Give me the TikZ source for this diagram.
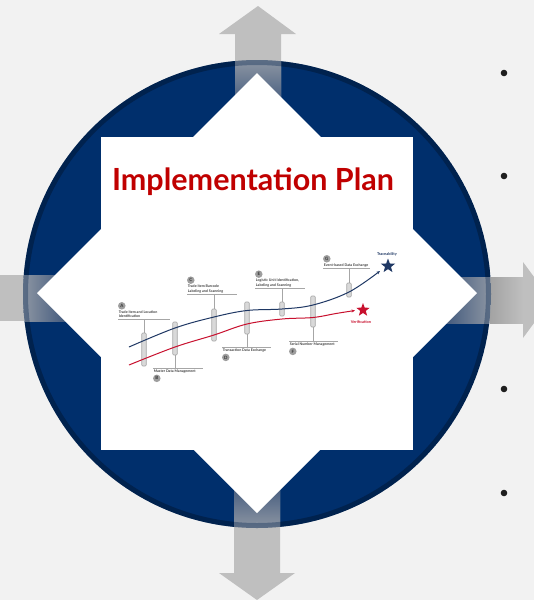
\documentclass[tikz,border=0pt]{standalone}
\usepackage{fontspec}
\setmainfont{Lato}
\usetikzlibrary{positioning,shapes.geometric,arrows.meta}

\definecolor{bgGray}{HTML}{F2F2F2}
\definecolor{discNavy}{HTML}{002F6C}
\definecolor{ringNavy}{HTML}{00224E}
\definecolor{arrowGray}{HTML}{BFBFBF}
\definecolor{rimGray}{HTML}{8D96A3}
\definecolor{deepGray}{HTML}{3A5379}
\definecolor{titleRed}{HTML}{C00000}
\definecolor{traceNavy}{HTML}{1F3864}
\definecolor{verifRed}{HTML}{C8102E}
\definecolor{barFill}{HTML}{D9D9D9}
\definecolor{barLine}{HTML}{A6A6A6}

\tikzset{
  bar/.style={draw=barLine, fill=barFill, line width=0.6pt, rounded corners=1pt,
    minimum width=4.5pt, inner sep=0pt},
  stem/.style={draw=barLine, line width=0.8pt},
  tick/.style={draw=barLine, line width=0.8pt},
  lbl/.style={font=\fontsize{3.6}{4.6}\selectfont\bfseries, text=black!75,
    align=left, inner sep=0.6pt},
  letter/.style={circle, fill=black!38, text=black!80, inner sep=0pt,
    minimum size=7.5pt, font=\fontsize{4.4}{4.4}\selectfont\bfseries},
  goal/.style={star, star points=5, star point ratio=2.4, inner sep=0pt},
  bigarrow/.style={fill=arrowGray}
}

\begin{document}
\begin{tikzpicture}[x=1pt, y=-1pt]
  \useasboundingbox (0,0) rectangle (534,600);
  \fill[bgGray] (0,0) rectangle (534,600);

  % big disc
  \coordinate (ctr) at (257,294);
  \draw[ringNavy, fill=discNavy, line width=5pt] (ctr) circle (231.5pt);

  % four arrows
  \fill[bigarrow] (235,110) -- (235,34) -- (219,34) -- (258,6) -- (296,34) -- (281,34) -- (281,110) -- cycle;
  \fill[bigarrow] (234,480) -- (234,573) -- (219,573) -- (257,600) -- (295,573) -- (280,573) -- (280,480) -- cycle;
  \fill[bigarrow] (-5,275) -- (70,275) -- (70,321) -- (-5,321) -- cycle;
  \fill[bigarrow] (440,277) -- (523,277) -- (523,262) -- (551,300) -- (523,338) -- (523,323) -- (440,323) -- cycle;
  \shade[left color=arrowGray!80!black!90, right color=arrowGray] (490,277) rectangle (523,323);
  \begin{scope}
    \clip (ctr) circle (234pt);
    \shade[top color=rimGray, bottom color=deepGray] (235,60) rectangle (281,110);
    \shade[bottom color=rimGray, top color=deepGray] (234,480) rectangle (280,528);
    \shade[left color=rimGray, right color=deepGray] (23,275) rectangle (70,321);
    \shade[right color=rimGray, left color=deepGray] (440,277) rectangle (491,323);
    \draw[ringNavy, line width=5pt, opacity=0.35] (ctr) circle (231.5pt);
  \end{scope}

  % white diamond and panel
  \fill[white] (257,73) -- (477,293) -- (257,513) -- (37,293) -- cycle;
  \fill[white] (101,137) rectangle (413,450);

  \node[anchor=base, font=\fontsize{30.5}{31}\selectfont\bfseries, text=titleRed]
    (title) at (253,190) {Implementation Plan};

  % milestones above the curves
  \coordinate (lA) at (118,319);
  \coordinate (lC) at (187,294);
  \coordinate (lE) at (255,288);
  \coordinate (lG) at (323,268);
  % milestones below the curves
  \coordinate (lB) at (153,368);
  \coordinate (lD) at (222,347);
  \coordinate (lF) at (289,341);

  \draw[tick] (lA) -- ++(52,0);
  \draw[tick] (lC) -- ++(50,0);
  \draw[tick] (lE) -- ++(50,0);
  \draw[tick] (lG) -- ++(47,0);
  \draw[tick] (lB) -- ++(50,0);
  \draw[tick] (lD) -- ++(49,0);
  \draw[tick] (lF) -- ++(49,0);

  \node[lbl, above right=0.3pt and 0pt of lA] (tA) {Trade Item and Location\\Identification};
  \node[lbl, above right=0.3pt and 0pt of lC] (tC) {Trade Item Barcode\\Labeling and Scanning};
  \node[lbl, above right=0.3pt and 0pt of lE] (tE) {Logistic Unit Identification,\\Labeling and Scanning};
  \node[lbl, above right=0.3pt and 0pt of lG] (tG) {Event-based Data Exchange};
  \node[lbl, below right=1.5pt and 0pt of lB] (tB) {Master Data Management};
  \node[lbl, below right=1.5pt and 0pt of lD] (tD) {Transaction Data Exchange};
  \node[lbl, below right=1.5pt and 0pt of lF] (tF) {Serial Number Management};

  \node[letter, above=1.2pt of tA.north west, anchor=south west, xshift=1pt] (cA) {A};
  \node[letter, above=1.2pt of tC.north west, anchor=south west, xshift=1pt] (cC) {C};
  \node[letter, above=1.2pt of tE.north west, anchor=south west, xshift=1pt] (cE) {E};
  \node[letter, above=1.2pt of tG.north west, anchor=south west, xshift=1pt] (cG) {G};
  \node[letter, below=1.2pt of tB.south west, anchor=north west, xshift=1pt] (cB) {B};
  \node[letter, below=1.2pt of tD.south west, anchor=north west, xshift=1pt] (cD) {D};
  \node[letter, below=1.2pt of tF.south west, anchor=north west, xshift=1pt] (cF) {F};

  % bars
  \node[bar, minimum height=33pt] (bA) at (144,349.5) {};
  \node[bar, minimum height=33pt] (bB) at (175,338.5) {};
  \node[bar, minimum height=32pt] (bC) at (214,325) {};
  \node[bar, minimum height=32pt] (bD) at (247,318) {};
  \node[bar, minimum height=14pt] (bE) at (282,309) {};
  \node[bar, minimum height=31pt] (bF) at (313,311.5) {};
  \node[bar, minimum height=14pt] (bG) at (349,290) {};

  \draw[stem] (bA.north) -- (bA.north |- lA);
  \draw[stem] (bC.north) -- (bC.north |- lC);
  \draw[stem] (bE.north) -- (bE.north |- lE);
  \draw[stem] (bG.north) -- (bG.north |- lG);
  \draw[stem] (bB.south) -- (bB.south |- lB);
  \draw[stem] (bD.south) -- (bD.south |- lD);
  \draw[stem] (bF.south) -- (bF.south |- lF);

  % goals
  \node[goal, fill=traceNavy, minimum size=15pt] (sTrace) at (388,266) {};
  \node[goal, fill=verifRed, minimum size=14pt] (sVerif) at (363,310) {};
  \node[font=\fontsize{3.9}{4}\selectfont\bfseries, text=traceNavy, inner sep=0pt]
    (nTrace) at (387,254) {Traceability};
  \node[font=\fontsize{3.9}{4}\selectfont\bfseries, text=verifRed, inner sep=0pt]
    (nVerif) at (361,322) {Verification};

  % curves
  \coordinate (tr0) at (129,347);
  \coordinate (tr1) at (380,271);
  \coordinate (vf0) at (129,365);
  \coordinate (vf1) at (355,310.5);
  \draw[traceNavy, line width=1pt, -{Stealth[length=3.5pt,width=3pt]}]
    plot[smooth, tension=0.6] coordinates {(tr0) (175,328) (214,317) (247,310.5) (282,309) (313,305) (349,292) (tr1)};
  \draw[verifRed, line width=1pt, -{Stealth[length=3.5pt,width=3pt]}]
    plot[smooth, tension=0.6] coordinates {(vf0) (175,347) (214,335) (247,324) (282,319) (313,317.5) (336,313.5) (vf1)};

  % bullets
  \foreach \by in {73,176,389,493}
    \fill[black!88] (504,\by) circle (3.3pt);
\end{tikzpicture}
\end{document}
